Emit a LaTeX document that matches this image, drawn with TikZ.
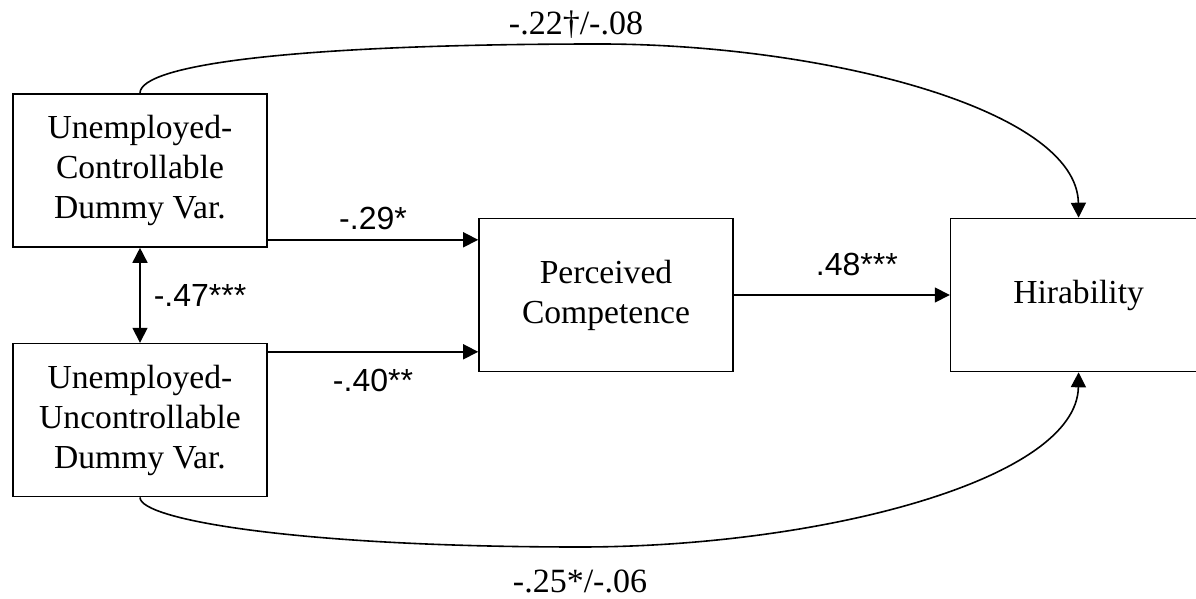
\documentclass[tikz,border=0pt]{standalone}
\usepackage{fontspec}
\setmainfont{Liberation Serif}
\newfontfamily\labelfont{Liberation Sans}
\usetikzlibrary{positioning}
\usetikzlibrary{arrows.meta}
\tikzset{
	varbox/.style={draw, rectangle, thick, inner sep=0pt, minimum width=127pt, minimum height=76.5pt, align=center, font=\fontsize{16.8}{20}\selectfont},
	coef/.style={inner sep=0pt, font=\labelfont\fontsize{16}{18}\selectfont},
	% the two long paths carry serif labels
	pathcoef/.style={inner sep=0pt, font=\fontsize{17}{19}\selectfont},
}

\begin{document}
\begin{tikzpicture}[x=0.5pt, y=-0.5pt]
			\path[use as bounding box] (0,0) rectangle (1196,599);
			\clip (0,0) rectangle (1196,599);
			
			\node (uc) [varbox] at (140,170.5) {Unemployed-\\Controllable\\Dummy Var.};
			\node (uu) [varbox, below=47.5pt of uc] {Unemployed-\\Uncontrollable\\Dummy Var.};
			\node (pc) [varbox] at (606,295) {Perceived\\Competence};
			\node (hir) [varbox, right=108pt of pc, minimum width=128pt] {\raisebox{3pt}{Hirability}};
			
			\coordinate (ucout) at ([yshift=4pt]uc.south east);
			\coordinate (uuout) at ([yshift=-4.5pt]uu.north east);
			\coordinate (topmid) at (600,44);
			\coordinate (botmid) at (580,547);
			
			\begin{scope}[thick, black, ->, >={Triangle[length=7.5pt, width=7.5pt]}]
				\draw (ucout) -- (ucout -| pc.west) node (c29) [coef, midway, above=4.5pt] {-.29*};
				\draw (uuout) -- (uuout -| pc.west) node (c40) [coef, midway, below=8.5pt] {-.40**};
				\draw (pc) -- (hir) node (c48) [coef, midway, above=9pt, xshift=7.5pt] {.48***};
				\draw [<->] (uc) -- (uu) node (c47) [coef, midway, right=6.5pt] {-.47***};
				
				\draw (uc.north) .. controls (140,64) and (300,44) .. (topmid)
					.. controls (820,44) and (1077,108) .. (hir.north);
				\draw (uu.south) .. controls (140,520) and (300,547) .. (botmid)
					.. controls (820,547) and (1077,480) .. (hir.south);
			\end{scope}
			
			\node (top) [pathcoef] at (576,25) {-.22\textdagger/-.08};
			\node (bottom) [pathcoef] at (580,581) {-.25*/-.06};
		\end{tikzpicture}
\end{document}
